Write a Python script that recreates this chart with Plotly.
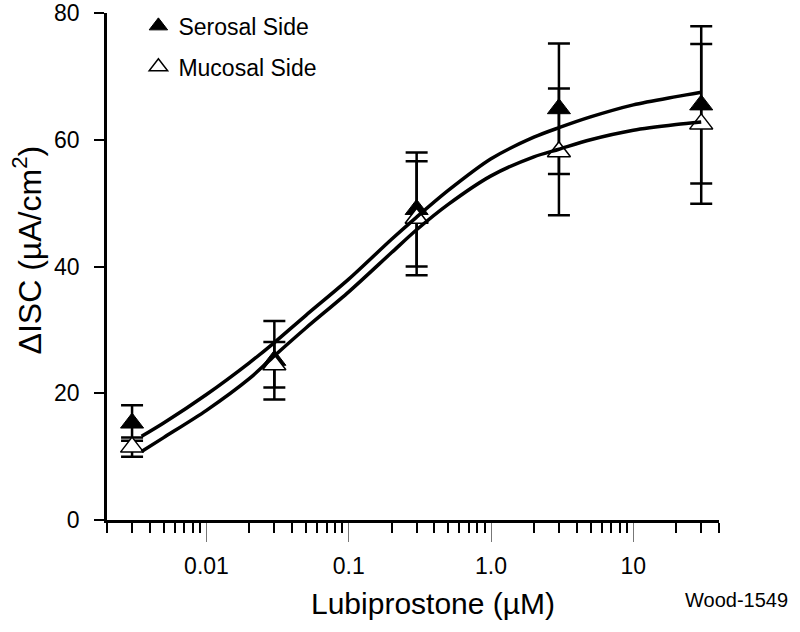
import plotly.graph_objects as go

# ---- data ----
conc = [0.003, 0.03, 0.3, 3.0, 30.0]  # µM

serosal_mean = [15.3, 25.2, 49.0, 64.9, 65.5]
serosal_err = [2.8, 6.2, 9.0, 10.3, 12.4]

mucosal_mean = [11.5, 24.5, 47.6, 58.1, 62.5]
mucosal_err = [1.5, 3.6, 9.0, 10.0, 12.6]

# fitted curves
fit_x = [0.0035, 0.005, 0.01, 0.02, 0.03, 0.05, 0.1, 0.2, 0.3, 0.5, 1, 2, 3, 5, 10, 20, 30]
serosal_fit = [13.2, 15.3, 19.8, 24.8, 28.0, 32.3, 38.0, 44.3, 47.8, 52.0, 57.0, 60.4, 61.9, 63.6, 65.5, 66.8, 67.5]
mucosal_fit = [10.8, 13.0, 17.3, 22.3, 25.9, 30.3, 36.0, 42.2, 45.8, 49.8, 54.3, 57.3, 58.5, 60.0, 61.5, 62.4, 62.8]

x_tickvals = [0.01, 0.1, 1, 10]
x_ticktext = ["0.01", "0.1", "1.0", "10"]
y_tickvals = [0, 20, 40, 60, 80]

FONT = "Arial, Liberation Sans, sans-serif"

fig = go.Figure()

fig.add_trace(go.Scatter(
    x=conc, y=serosal_mean, mode="markers", name="Serosal Side",
    legendgroup="s",
    marker=dict(symbol="triangle-up", size=20, color="black",
                line=dict(color="black", width=1)),
    error_y=dict(type="data", array=serosal_err, visible=True,
                 color="black", thickness=2.5, width=11),
))
fig.add_trace(go.Scatter(
    x=conc, y=mucosal_mean, mode="markers", name="Mucosal Side",
    legendgroup="m",
    marker=dict(symbol="triangle-up", size=20, color="white",
                line=dict(color="black", width=1.5)),
    error_y=dict(type="data", array=mucosal_err, visible=True,
                 color="black", thickness=2.5, width=11),
))
fig.add_trace(go.Scatter(
    x=fit_x, y=serosal_fit, mode="lines", showlegend=False,
    line=dict(color="black", width=3.5, shape="spline", smoothing=0.8),
))
fig.add_trace(go.Scatter(
    x=fit_x, y=mucosal_fit, mode="lines", showlegend=False,
    line=dict(color="black", width=3.5, shape="spline", smoothing=0.8),
))

mantissas = [2, 3, 4, 5, 6, 7, 8, 9]
minor_vals = [m * d for d in [0.001, 0.01, 0.1, 1] for m in mantissas] + [20, 30, 40]

fig.update_xaxes(
    type="log", range=[-2.69897, 1.60206], automargin=False,
    showline=True, linecolor="black", linewidth=2.5,
    showgrid=False, zeroline=False,
    tickmode="array", tickvals=x_tickvals, ticktext=x_ticktext,
    ticks="outside", ticklen=19, tickwidth=1, tickcolor="#777777",
    ticklabelstandoff=5,
    tickfont=dict(family=FONT, size=23, color="black"),
    minor=dict(tickmode="array", tickvals=minor_vals, ticks="outside",
               ticklen=10, tickwidth=1.5, tickcolor="black", showgrid=False),
)
fig.update_yaxes(
    range=[0, 80], automargin=False,
    showline=True, linecolor="black", linewidth=2.5,
    showgrid=False, zeroline=False,
    tickmode="array", tickvals=y_tickvals,
    ticks="outside", ticklen=10, tickwidth=2, tickcolor="black",
    ticklabelstandoff=10,
    tickfont=dict(family=FONT, size=23, color="black"),
)

fig.update_layout(
    width=800, height=632,
    margin=dict(l=107, r=81, t=13, b=112, autoexpand=False),
    paper_bgcolor="white", plot_bgcolor="white",
    showlegend=True,
    legend=dict(xref="container", yref="container", x=0.173, y=0.993,
                xanchor="left", yanchor="top",
                bgcolor="rgba(0,0,0,0)", tracegroupgap=8,
                font=dict(family=FONT, size=23, color="black")),
    annotations=[
        dict(text="\u0394ISC (\u00b5A/cm<sup>2</sup>)", xref="paper", yref="paper",
             x=-0.13, y=0.5325, textangle=-90, showarrow=False,
             font=dict(family=FONT, size=32, color="black"),
             xanchor="center", yanchor="middle"),
        dict(text="Lubiprostone (\u00b5M)", xref="paper", yref="paper",
             x=0.533, y=-0.164, showarrow=False,
             font=dict(family=FONT, size=30, color="black"),
             xanchor="center", yanchor="middle"),
        dict(text="Wood-1549", xref="paper", yref="paper",
             x=1.028, y=-0.158, showarrow=False,
             font=dict(family=FONT, size=20, color="black"),
             xanchor="center", yanchor="middle"),
    ],
)

fig.write_html("out.html", config={"displayModeBar": False},
               post_script="document.body.style.margin='0';")
